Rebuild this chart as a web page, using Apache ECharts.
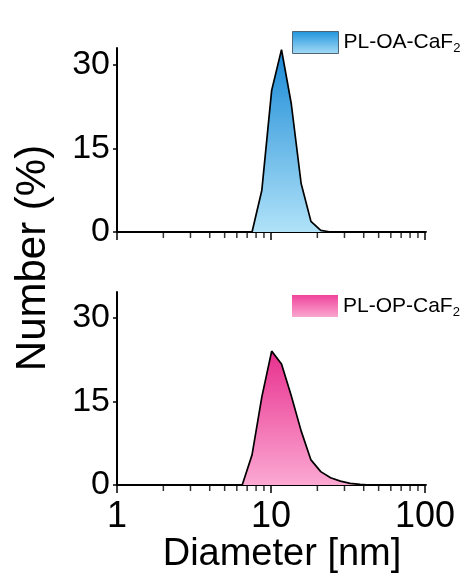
<!DOCTYPE html>
<html>
<head>
<meta charset="utf-8">
<script src="https://cdn.jsdelivr.net/npm/echarts@6/dist/echarts.min.js"></script>
<style>
html,body{margin:0;padding:0;background:#fff;}
#c{width:464px;height:579px;}
</style>
</head>
<body>
<div id="c"></div>
<script>
// Diameter bins (nm)
const diameters = [0.9649, 1.117, 1.294, 1.499, 1.736, 2.01, 2.328, 2.696, 3.122, 3.615, 4.187, 4.849, 5.615, 6.503, 7.531, 8.721, 10.1, 11.7, 13.54, 15.69, 18.17, 21.04, 24.36, 28.21, 32.67, 37.84, 43.82, 50.75, 58.77, 68.06, 78.82, 91.28, 105.7];
// Number (%) for PL-OA-CaF2
const numberOA = [0,0,0,0,0,0,0,0,0,0,0,0,0,0, 0, 7.5, 25.4, 32.7, 23.0, 8.7, 1.9, 0.3, 0, 0,0,0,0,0,0,0,0,0,0];
// Number (%) for PL-OP-CaF2
const numberOP = [0,0,0,0,0,0,0,0,0,0,0,0,0,0, 5.4, 15.8, 24.0, 21.7, 16.0, 9.7, 4.5, 2.4, 1.3, 0.7, 0.3, 0.1, 0, 0,0,0,0,0,0];
const seriesNames = ['PL-OA-CaF2', 'PL-OP-CaF2'];
const xTickLabels = [1, 10, 100];
const yTickLabels = [0, 15, 30];
const minorTickValues = [2,3,4,5,6,7,8,9,20,30,40,50,60,70,80,90];

const FONT = '"Liberation Sans", Arial, sans-serif';
const chart = echarts.init(document.getElementById('c'), null, {renderer: 'canvas'});

function pairs(xs, ys) { return xs.map((x, i) => [x, ys[i]]); }

const blueGrad = new echarts.graphic.LinearGradient(0, 0, 0, 1, [
  {offset: 0, color: '#1a8ad6'}, {offset: 1, color: '#b0e2f8'}]);
const pinkGrad = new echarts.graphic.LinearGradient(0, 0, 0, 1, [
  {offset: 0, color: '#e8308e'}, {offset: 1, color: '#fba9d3'}]);
const blueLeg = new echarts.graphic.LinearGradient(0, 0, 0, 1, [
  {offset: 0, color: '#1e94dc'}, {offset: 1, color: '#a6dcf6'}]);
const pinkLeg = new echarts.graphic.LinearGradient(0, 0, 0, 1, [
  {offset: 0, color: '#f0449c'}, {offset: 1, color: '#f9a6cf'}]);

function xAxisCfg(gridIndex, showLabels) {
  return {
    type: 'log', logBase: 10, gridIndex, min: 1, max: 100,
    axisLine: {show: true, onZero: false, lineStyle: {color: '#000', width: 2}},
    axisTick: {show: true, inside: false, length: 8, lineStyle: {color: '#000', width: 1.5}},
    minorTick: {show: false},
    splitLine: {show: false},
    axisLabel: {show: showLabels, color: '#000', fontSize: 36, fontFamily: FONT, margin: 14,
      customValues: xTickLabels, formatter: v => String(Math.round(v))}
  };
}
function yAxisCfg(gridIndex, max) {
  return {
    type: 'value', gridIndex, min: 0, max,
    axisLine: {show: true, lineStyle: {color: '#000', width: 2}},
    axisTick: {show: true, inside: false, length: 4, customValues: yTickLabels, lineStyle: {color: '#000', width: 1.5}},
    splitLine: {show: false},
    axisLabel: {color: '#000', fontSize: 34, fontFamily: FONT, margin: 7, customValues: yTickLabels}
  };
}
function legendCfg(name, top, icon, border) {
  return {
    left: 292, top, padding: 0, orient: 'horizontal', icon: 'rect', itemWidth: 46, itemHeight: 22, itemGap: 5,
    selectedMode: false,
    data: [{name, itemStyle: {color: icon, borderColor: border ? '#4d6577' : 'transparent', borderWidth: border ? 1 : 0}}],
    formatter: n => '{t|' + n.slice(0, -1) + '}{s|' + n.slice(-1) + '}',
    textStyle: {rich: {
      t: {fontSize: 21, fontFamily: FONT, color: '#000'},
      s: {fontSize: 13, fontFamily: FONT, color: '#000', padding: [12, 0, 0, 0]}
    }}
  };
}

chart.setOption({
  backgroundColor: '#ffffff',
  animation: false,
  grid: [
    {left: 117, width: 308, top: 48, height: 184},
    {left: 117, width: 308, top: 292, height: 193}
  ],
  xAxis: [xAxisCfg(0, false), xAxisCfg(1, true)],
  yAxis: [yAxisCfg(0, 33), yAxisCfg(1, 34.6)],
  legend: [legendCfg(seriesNames[0], 31, blueLeg, true), legendCfg(seriesNames[1], 295, pinkLeg, false)],
  series: [
    {name: seriesNames[0], type: 'line', xAxisIndex: 0, yAxisIndex: 0, data: pairs(diameters, numberOA),
     showSymbol: false, symbol: 'none', smooth: false, clip: true,
     lineStyle: {color: '#000', width: 1.7}, itemStyle: {color: '#1e94dc'}, areaStyle: {color: blueGrad, opacity: 1}},
    {name: seriesNames[1], type: 'line', xAxisIndex: 1, yAxisIndex: 1, data: pairs(diameters, numberOP),
     showSymbol: false, symbol: 'none', smooth: false, clip: true,
     lineStyle: {color: '#000', width: 1.7}, itemStyle: {color: '#f0449c'}, areaStyle: {color: pinkGrad, opacity: 1}},
    {name: 'minorTop', type: 'scatter', xAxisIndex: 0, yAxisIndex: 0, data: minorTickValues.map(v => [v, 0]),
     symbol: 'rect', symbolSize: [1.5, 5], symbolOffset: [0, 3.5], clip: false, silent: true,
     itemStyle: {color: '#000'}, z: 5},
    {name: 'minorBottom', type: 'scatter', xAxisIndex: 1, yAxisIndex: 1, data: minorTickValues.map(v => [v, 0]),
     symbol: 'rect', symbolSize: [1.5, 5], symbolOffset: [0, 3.5], clip: false, silent: true,
     itemStyle: {color: '#000'}, z: 5}
  ],
  graphic: [
    {type: 'text', x: 33, y: 258, rotation: Math.PI / 2,
     style: {text: 'Number (%)', fontSize: 42, fontFamily: FONT, fill: '#000', align: 'center', verticalAlign: 'middle'}},
    {type: 'text', x: 282, y: 555,
     style: {text: 'Diameter [nm]', fontSize: 38, fontFamily: FONT, fill: '#000', align: 'center', verticalAlign: 'middle'}}
  ]
});
</script>
</body>
</html>
